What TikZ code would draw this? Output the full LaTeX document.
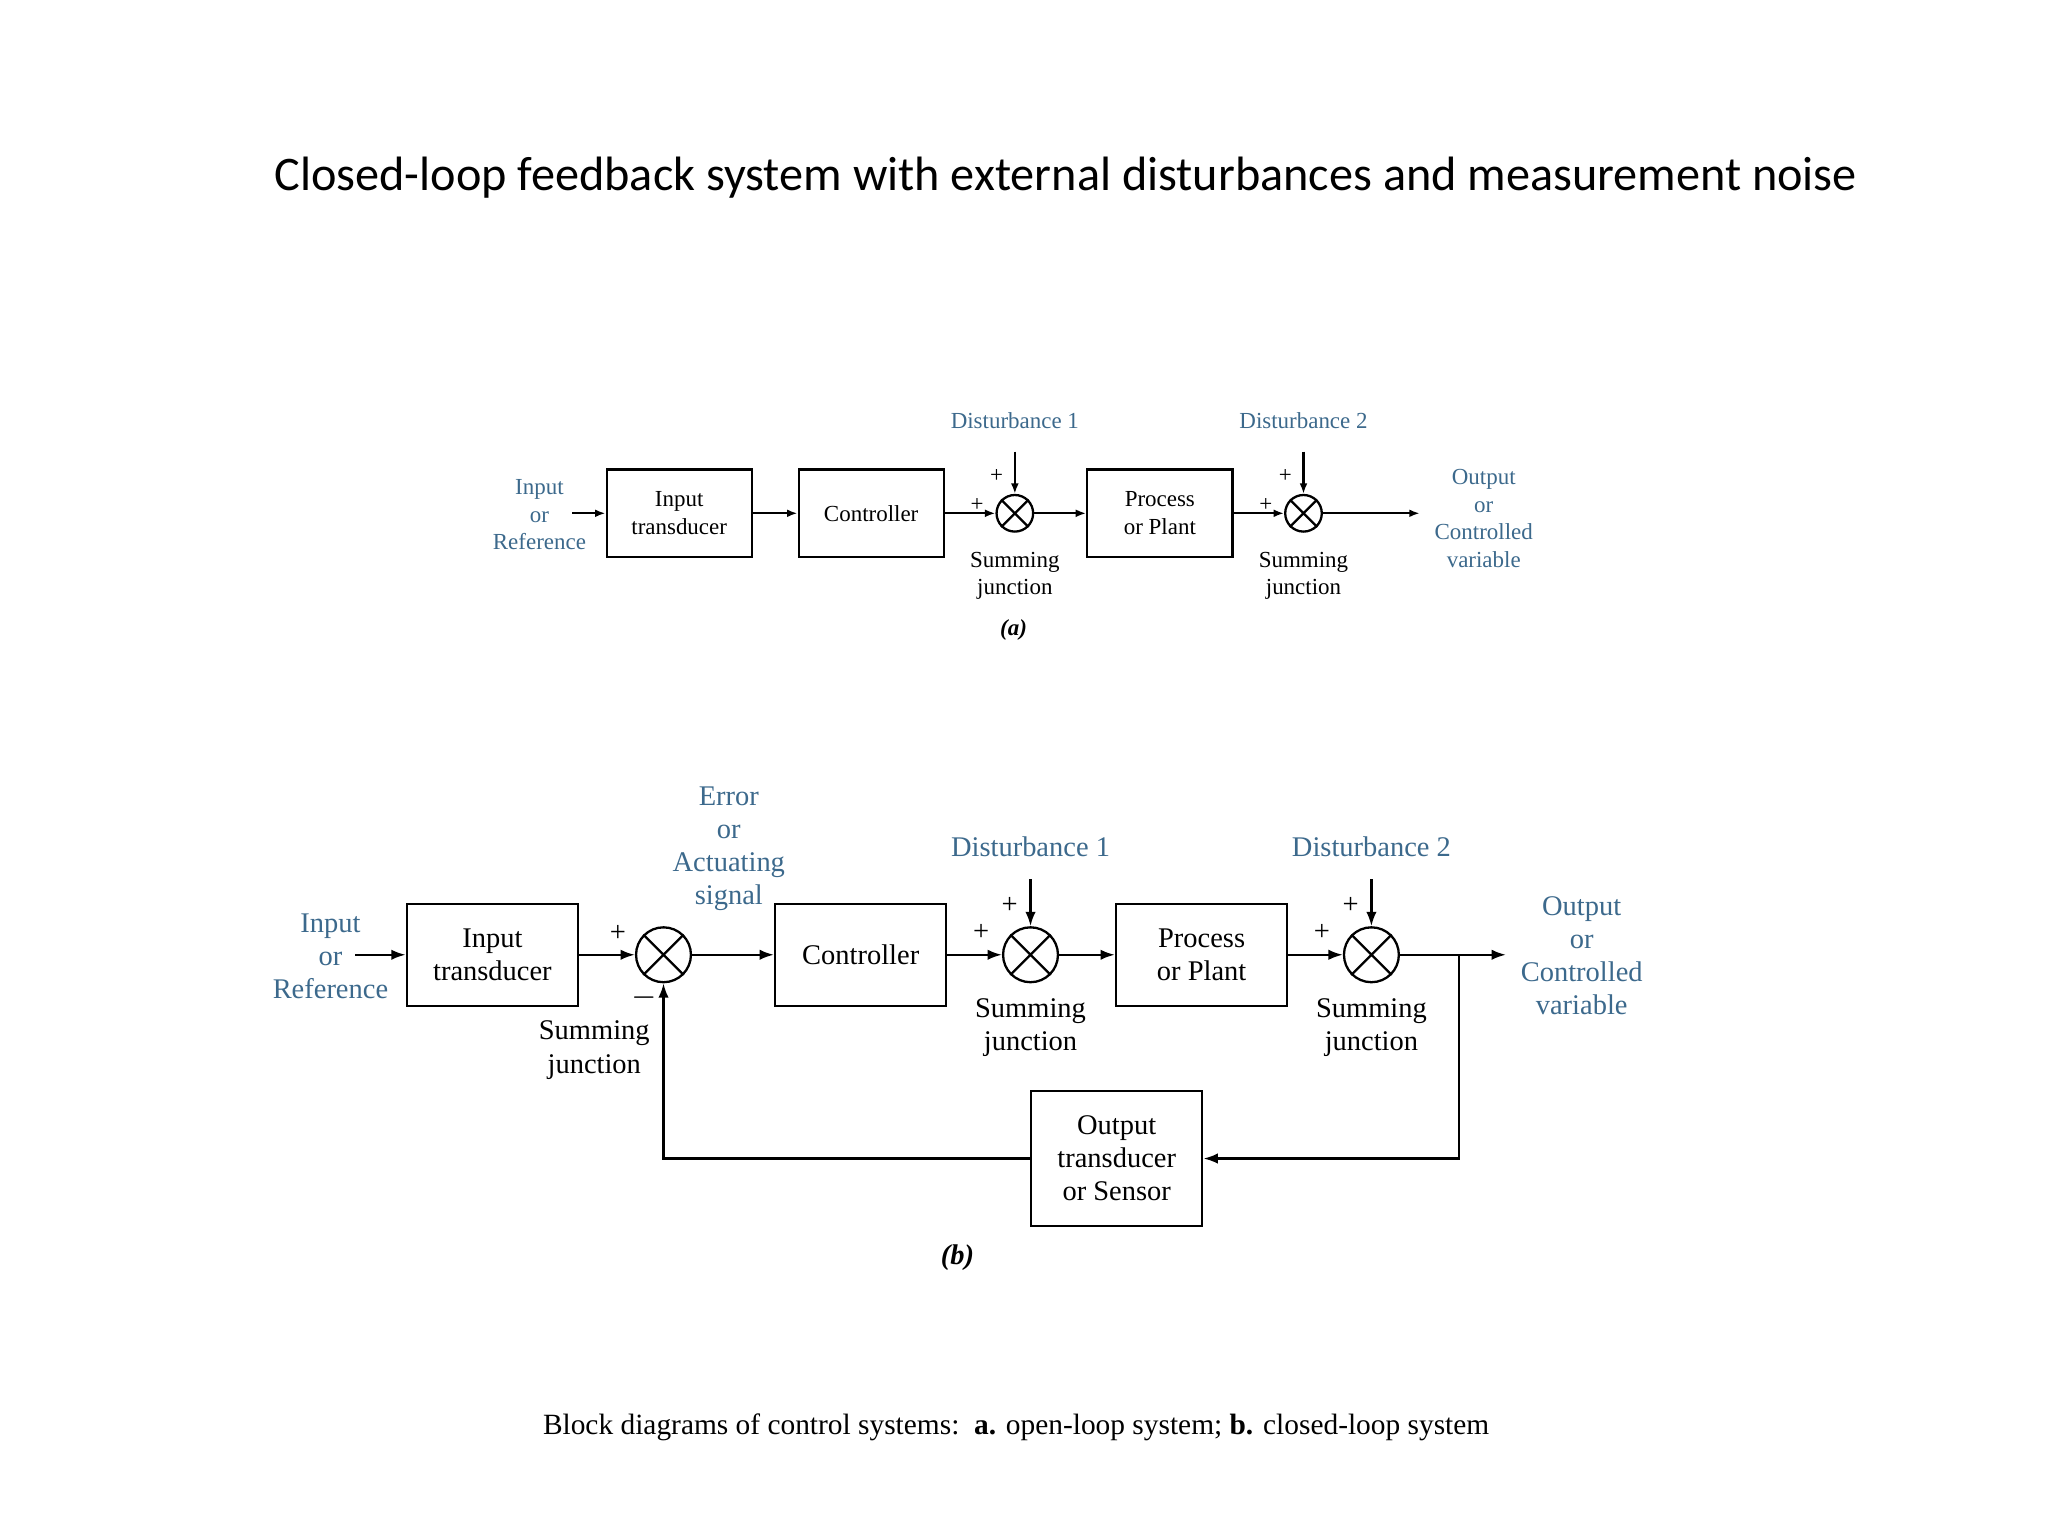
\documentclass[tikz,border=0pt]{standalone}
\usepackage{fontspec}
\setmainfont{Liberation Serif}
\newfontfamily\titlefont{Carlito}
\usetikzlibrary{positioning,arrows.meta}
\definecolor{lblue}{RGB}{60,105,140}

\begin{document}
\begin{tikzpicture}[x=0.01cm,y=-0.01cm,line width=0.5pt,
  blka/.style={draw,minimum width=1.11cm,minimum height=0.67cm,align=center,font=\fontsize{5}{6}\selectfont},
  blkb/.style={draw,minimum width=1.31cm,minimum height=0.78cm,align=center,font=\fontsize{6.2}{7.2}\selectfont},
  suma/.style={draw,circle,minimum size=0.28cm,inner sep=0pt},
  sumb/.style={draw,circle,minimum size=0.42cm,inner sep=0pt},
  txta/.style={align=center,font=\fontsize{5}{6}\selectfont},
  txtb/.style={align=center,font=\fontsize{6.2}{7.2}\selectfont},
  lbla/.style={txta,text=lblue},
  lblb/.style={txtb,text=lblue},
  ara/.style={-{Latex[length=0.8mm,width=0.6mm]}},
  arb/.style={-{Latex[length=1.1mm,width=0.8mm]}}]

  \useasboundingbox (0,0) rectangle (1568,1176);
  \node[font=\titlefont\fontsize{10.5}{12}\selectfont] (title) at (816,136) {Closed-loop feedback system with external disturbances and measurement noise};

  % (a) open loop
  \node[lbla] (ina) at (413,394) {Input\\or\\Reference};
  \node[blka] (itra) at (520,393) {Input\\transducer};
  \node[blka] (cona) at (667,393) {Controller};
  \node[suma] (s1a) at (777,393) {};
  \node[blka] (pla) at (888,393) {Process\\or Plant};
  \node[suma] (s2a) at (998,393) {};
  \node[lbla] (outa) at (1136,397) {Output\\or\\Controlled\\variable};
  \node[lbla] (d1a) at (777,322) {Disturbance 1};
  \node[lbla] (d2a) at (998,322) {Disturbance 2};
  \node[txta] at (777,441) {Summing\\junction};
  \node[txta] at (998,441) {Summing\\junction};
  \node[txta] at (776,482) {\textbf{\textit{(a)}}};
  \foreach \s in {s1a,s2a} {
    \draw (\s.45) -- (\s.225) (\s.135) -- (\s.-45);
    \node[txta,inner sep=0pt] at ([shift={(-14,-6)}]\s.west) {+};
    \node[txta,inner sep=0pt] at ([shift={(-14,-14)}]\s.north) {+};
  }
  \coordinate (oa) at (1087,393);
  \coordinate (ia) at (438,393);
  \draw[ara] (ia) -- (itra);
  \draw[ara] (itra) -- (cona);
  \draw[ara] (cona) -- (s1a);
  \draw[ara] (s1a) -- (pla);
  \draw[ara] (pla) -- (s2a);
  \draw[ara] (s2a) -- (oa);
  \draw[ara] (d1a.south) ++(0,5) -- (s1a);
  \draw[ara] (d2a.south) ++(0,5) -- (s2a);

  % (b) closed loop
  \node[lblb] (inb) at (253,732) {Input\\or\\Reference};
  \node[blkb] (itrb) at (377,731) {Input\\transducer};
  \node[sumb] (s0b) at (508,731) {};
  \node[blkb] (conb) at (659,731) {Controller};
  \node[sumb] (s1b) at (789,731) {};
  \node[blkb] (plb) at (920,731) {Process\\or Plant};
  \node[sumb] (s2b) at (1050,731) {};
  \node[lblb] (outb) at (1211,732) {Output\\or\\Controlled\\variable};
  \node[blkb,minimum height=1.03cm] (sens) at (855,887) {Output\\transducer\\or Sensor};
  \node[lblb] (err) at (558,650) {Error\\or\\Actuating\\signal};
  \node[lblb] (d1b) at (789,648) {Disturbance 1};
  \node[lblb] (d2b) at (1050,648) {Disturbance 2};
  \node[txtb] at (455,804) {Summing\\junction};
  \node[txtb] at (789,787) {Summing\\junction};
  \node[txtb] at (1050,787) {Summing\\junction};
  \node[txtb] at (733,963) {\textbf{\textit{(b)}}};
  \foreach \s in {s0b,s1b,s2b} \draw (\s.45) -- (\s.225) (\s.135) -- (\s.-45);
  \foreach \s in {s1b,s2b} {
    \node[txtb,inner sep=0pt] at ([shift={(-16,-17)}]\s.west) {+};
    \node[txtb,inner sep=0pt] at ([shift={(-16,-16)}]\s.north) {+};
  }
  \node[txtb,inner sep=0pt] at ([shift={(-13,-16)}]s0b.west) {+};
  \node[txtb,inner sep=0pt] at ([shift={(-15,11)}]s0b.south) {$-$};
  \coordinate (ob) at (1153,731);
  \coordinate (br) at (1117,731);
  \coordinate (ib) at (272,731);
  \draw[arb] (ib) -- (itrb);
  \draw[arb] (itrb) -- (s0b);
  \draw[arb] (s0b) -- (conb);
  \draw[arb] (conb) -- (s1b);
  \draw[arb] (s1b) -- (plb);
  \draw[arb] (plb) -- (s2b);
  \draw[arb] (s2b) -- (ob);
  \draw[arb] (d1b.south) ++(0,5) -- (s1b);
  \draw[arb] (d2b.south) ++(0,5) -- (s2b);
  \draw[arb] (br) |- (sens);
  \draw[arb] (sens) -| (s0b);

  \node[font=\fontsize{6.4}{8}\selectfont] (cap) at (778,1093) {Block diagrams of control systems:\ \ \textbf{a.} open-loop system; \textbf{b.} closed-loop system};
\end{tikzpicture}
\end{document}
